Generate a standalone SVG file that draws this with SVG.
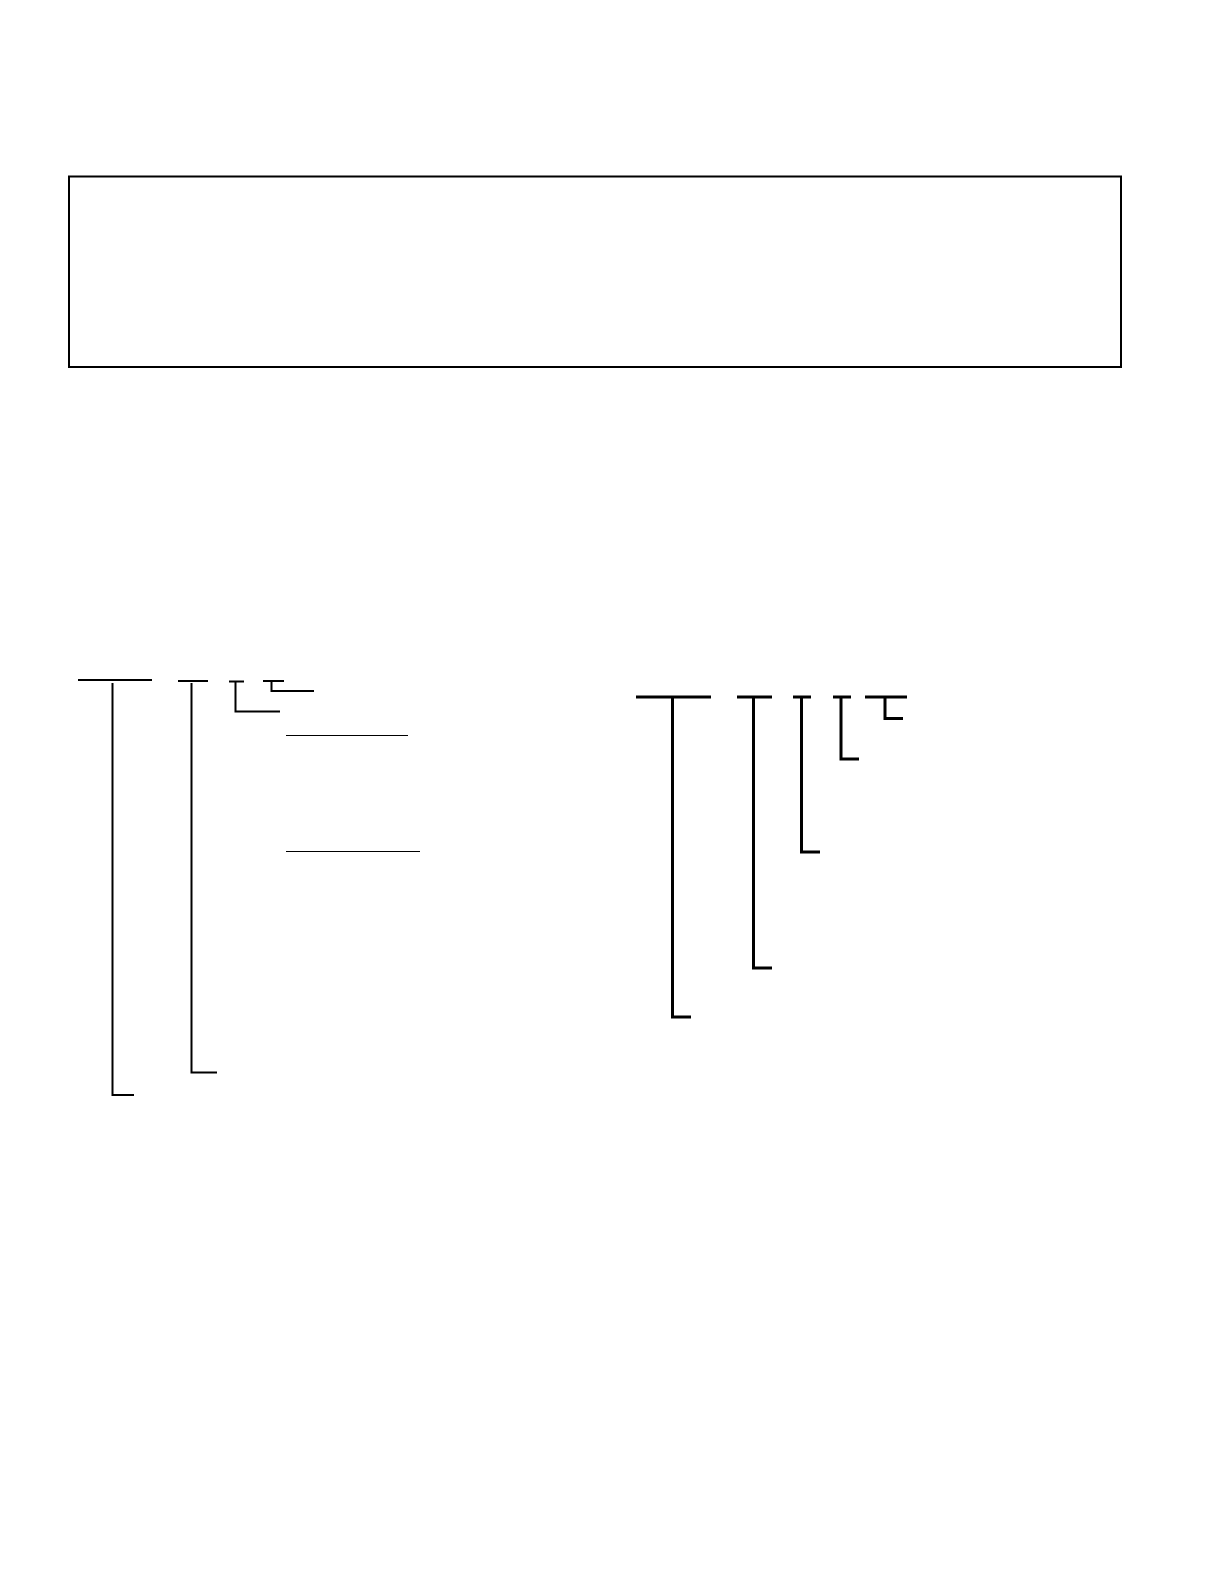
<svg xmlns="http://www.w3.org/2000/svg" width="1224" height="1584" viewBox="0 0 1224 1584">
<style>
.box{fill:none;stroke:#000;stroke-width:2}
.l{fill:none;stroke:#000;stroke-width:2}
.t{fill:none;stroke:#000;stroke-width:1.2}
.r{fill:none;stroke:#000;stroke-width:3}
</style>
<rect width="1224" height="1584" fill="#fff"/>
<g id="frame"><rect class="box" x="69" y="176.5" width="1052" height="190.5"/></g>
<g id="connectors">
<path class="l" d="M78 680H152"/>
<path class="l" d="M112.5 683V1095H134"/>
<path class="l" d="M178 681H208"/>
<path class="l" d="M191.5 683V1072.5H217"/>
<path class="l" d="M229 681.5H244"/>
<path class="l" d="M235.5 681.5V711.5H280"/>
<path class="l" d="M263 681H284"/>
<path class="l" d="M271.5 681V691H314"/>
<path class="t" d="M286 735.5H408"/>
<path class="t" d="M286 851.5H420"/>
<path class="r" d="M636 697H711"/>
<path class="r" d="M672.5 697V1017H691"/>
<path class="r" d="M737 697H772"/>
<path class="r" d="M753.5 697V968H772"/>
<path class="r" d="M793 697H811"/>
<path class="r" d="M801.5 697V852H820"/>
<path class="r" d="M833 697H851"/>
<path class="r" d="M841 697V759H859"/>
<path class="r" d="M865 697H907"/>
<path class="r" d="M885 697V718.5H903"/>
</g>
</svg>
